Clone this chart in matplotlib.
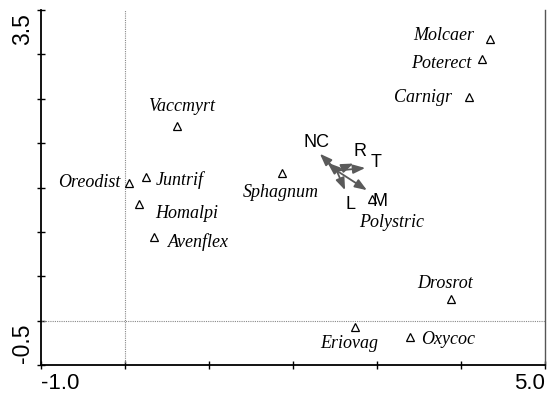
import matplotlib
matplotlib.use("Agg")
import matplotlib.pyplot as plt

# Species scores
species = ["Molcaer", "Poterect", "Carnigr", "Vaccmyrt", "Oreodist", "Juntrif",
           "Homalpi", "Avenflex", "Sphagnum", "Polystric", "Drosrot", "Eriovag", "Oxycoc"]
sp_x = [4.35, 4.25, 4.09, 0.62, 0.05, 0.25, 0.17, 0.34, 1.87, 2.94, 3.88, 2.74, 3.39]
sp_y = [3.17, 2.95, 2.52, 2.19, 1.55, 1.62, 1.31, 0.94, 1.66, 1.37, 0.24, -0.07, -0.19]
# label positions (text centres)
lab_x = [3.80, 3.77, 3.55, 0.67, -0.43, 0.65, 0.73, 0.87, 1.86, 3.17, 3.81, 2.67, 3.85]
lab_y = [3.21, 2.90, 2.51, 2.41, 1.56, 1.58, 1.21, 0.88, 1.44, 1.11, 0.42, -0.26, -0.21]

# Environmental arrows
env = ["N", "C", "R", "T", "L", "M"]
arr_x0, arr_y0 = 2.52, 1.69
arr_x = [2.32, 2.41, 2.72, 2.86, 2.62, 2.88]
arr_y = [1.88, 1.78, 1.77, 1.72, 1.47, 1.47]
env_labels = ["NC", "R", "T", "L", "M"]
env_lx = [2.28, 2.80, 2.99, 2.68, 3.04]
env_ly = [2.01, 1.90, 1.78, 1.31, 1.34]

xlim = (-1.0, 5.0)
ylim = (-0.5, 3.5)

W, H = 548, 394
fig = plt.figure(figsize=(W / 100, H / 100), dpi=100)
ax = fig.add_axes([41 / W, 29 / H, 504 / W, 355 / H])
ax.set_xlim(*xlim)
ax.set_ylim(*ylim)

ax.axvline(0, color="#888888", lw=0.8, ls=(0, (1, 1)))
ax.axhline(0, color="#888888", lw=0.8, ls=(0, (1, 1)))

ax.plot(sp_x, sp_y, ls="none", marker="^", ms=6, mfc="white", mec="black", mew=0.9)
for name, x, y in zip(species, lab_x, lab_y):
    ax.text(x, y, name, family="Liberation Serif", style="italic", fontsize=13,
            ha="center", va="center")

for x1, y1 in zip(arr_x, arr_y):
    ax.annotate("", xy=(x1, y1), xytext=(arr_x0, arr_y0),
                arrowprops=dict(arrowstyle="-|>,head_length=0.8,head_width=0.3",
                                mutation_scale=9, color="#5a5a5a", lw=1.3,
                                shrinkA=0, shrinkB=0))
for name, x, y in zip(env_labels, env_lx, env_ly):
    ax.text(x, y, name, family="Liberation Sans", fontsize=13, ha="center", va="center",
            color="black")

ax.spines["top"].set_visible(False)
ax.spines["left"].set_linewidth(1.3)
ax.spines["bottom"].set_linewidth(1.3)
ax.spines["right"].set_color("#555555")
ax.spines["right"].set_linewidth(1.0)

ax.set_xticks([-1, 0, 1, 2, 3, 4, 5])
ax.set_yticks([-0.5, 0, 0.5, 1.0, 1.5, 2.0, 2.5, 3.0, 3.5])
ax.set_xticklabels([])
ax.set_yticklabels([])
ax.tick_params(direction="inout", length=6, width=1.0, right=False, top=False)

ax.text(0, -29 / 355, "%.1f" % xlim[0], transform=ax.transAxes, family="Liberation Sans",
        fontsize=16, ha="left", va="bottom")
ax.text(1, -29 / 355, "%.1f" % xlim[1], transform=ax.transAxes, family="Liberation Sans",
        fontsize=16, ha="right", va="bottom")
ax.text(-0.013, 0.99, "%.1f" % ylim[1], transform=ax.transAxes, family="Liberation Sans",
        fontsize=16.5, ha="right", va="top", rotation=90)
ax.text(-0.013, 0.005, "%.1f" % ylim[0], transform=ax.transAxes, family="Liberation Sans",
        fontsize=16.5, ha="right", va="bottom", rotation=90)

fig.savefig("out.png", dpi=100)
